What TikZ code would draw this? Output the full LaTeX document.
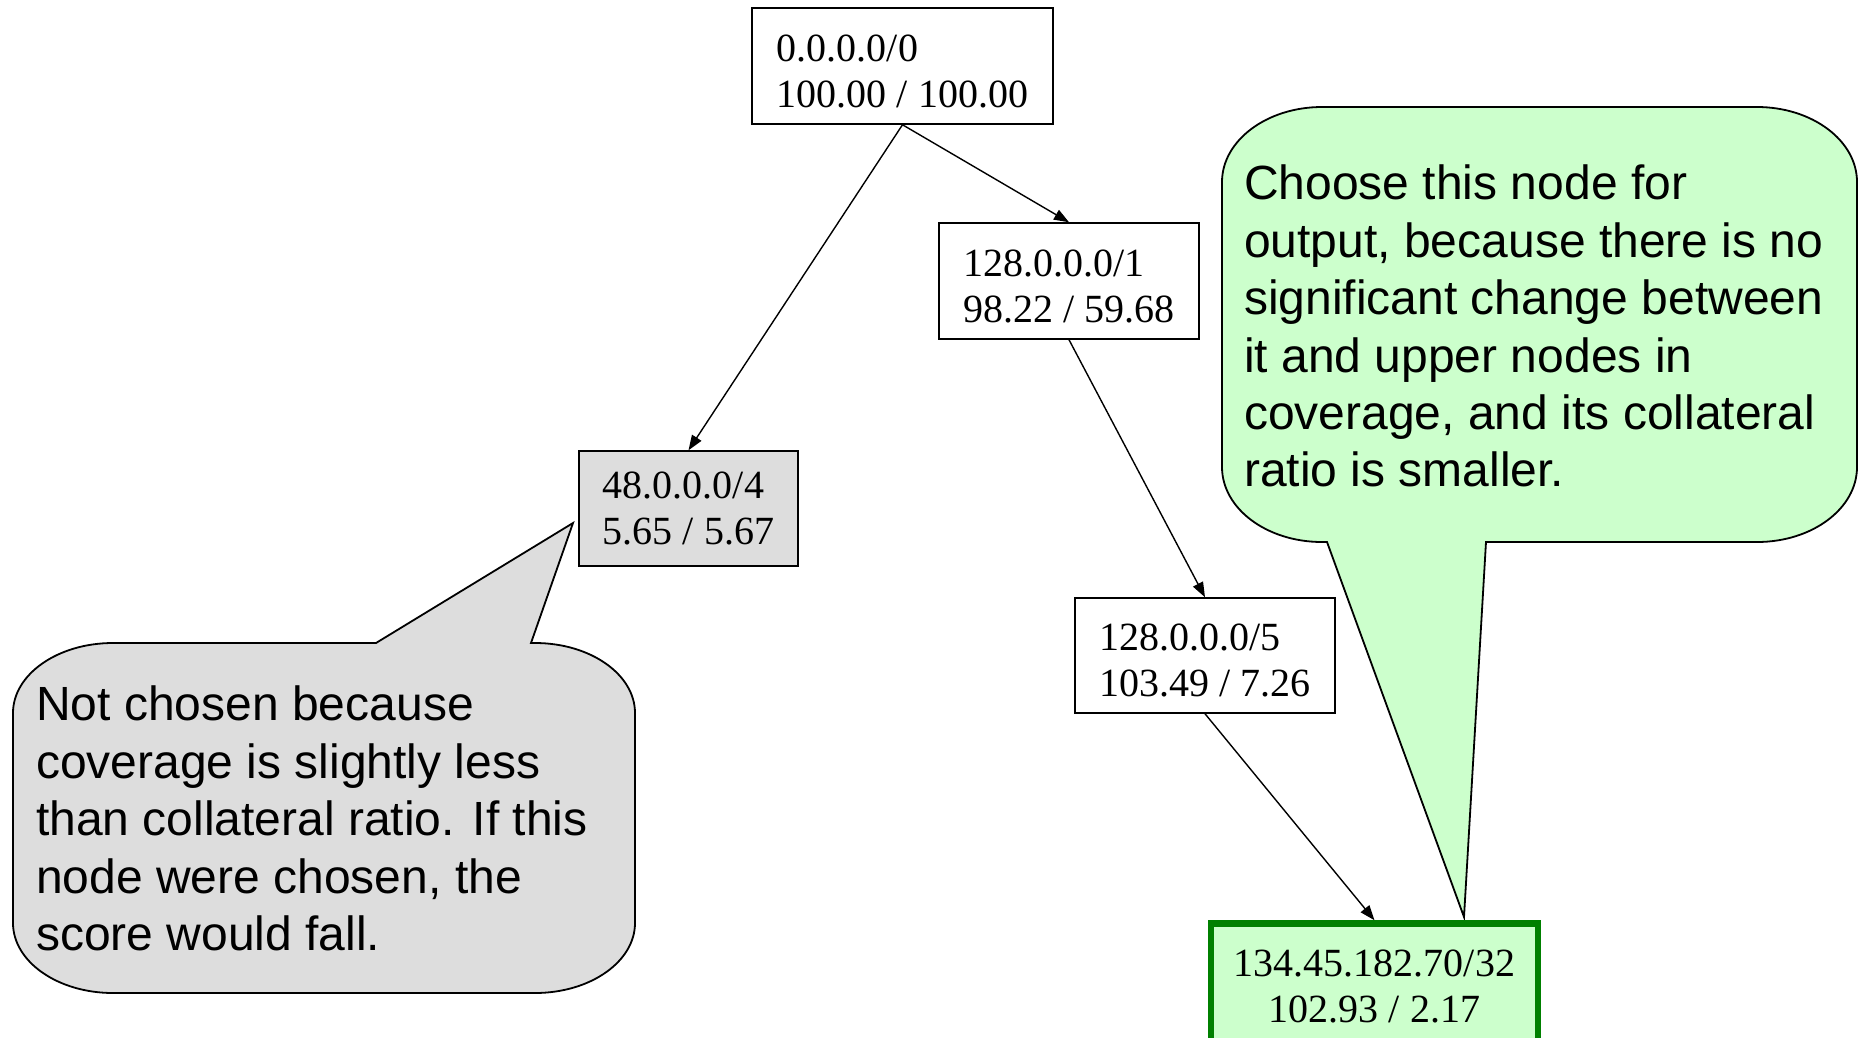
\documentclass[tikz,border=0pt]{standalone}
\usepackage{fontspec}
\setmainfont{Liberation Serif}
\newfontfamily\notefont{Liberation Sans}
\usetikzlibrary{arrows.meta}

\definecolor{boxgray}{HTML}{DDDDDD}
\definecolor{palegreen}{HTML}{CCFFCC}
\definecolor{deepgreen}{HTML}{008000}

% taller first line, so that the two lines sit a little lower in their box
\newcommand\firstlinestrut{\rule{0pt}{37pt}}

\tikzset{
  ipbox/.style={draw, line width=1.5pt, align=left, inner sep=0pt,
    font=\fontsize{40}{46}\selectfont},
  chosenbox/.style={ipbox, align=center, draw=deepgreen, line width=6.5pt, fill=palegreen},
  edge/.style={line width=1.4pt, -{Triangle[length=15pt,width=11pt]}},
  bubble/.style={draw, line width=1.8pt},
  bubbletext/.style={align=left, inner sep=0pt, anchor=north west,
    font=\notefont\fontsize{48}{57.4}\selectfont},
}

\begin{document}
\begin{tikzpicture}[x=1pt,y=-1pt]
\useasboundingbox (0,0) rectangle (1864,1037);

% speech bubbles
\draw[bubble, fill=boxgray]
  (376,643) -- (573,523) -- (531,643) -- (535,643)
  .. controls (590.2,643) and (635,674.3) .. (635,713) -- (635,923)
  .. controls (635,961.7) and (590.2,993) .. (535,993) -- (113,993)
  .. controls (57.8,993) and (13,961.7) .. (13,923) -- (13,713)
  .. controls (13,674.3) and (57.8,643) .. (113,643) -- cycle;
\node[bubbletext] (notenot) at (36,686)
  {Not chosen because\\coverage is slightly less\\than collateral ratio. If this\\node were chosen, the\\score would fall.};

\draw[bubble, fill=palegreen]
  (1327,542) -- (1464,917) -- (1486,542) -- (1757,542)
  .. controls (1812.2,542) and (1857,508.6) .. (1857,467) -- (1857,182)
  .. controls (1857,140.6) and (1812.2,107) .. (1757,107) -- (1322,107)
  .. controls (1266.8,107) and (1222,140.6) .. (1222,182) -- (1222,467)
  .. controls (1222,508.6) and (1266.8,542) .. (1322,542) -- cycle;
\node[bubbletext] (notechoose) at (1244,165)
  {Choose this node for\\output, because there is no\\significant change between\\it and upper nodes in\\coverage, and its collateral\\ratio is smaller.};

% prefix tree
\node[ipbox, minimum width=301pt, minimum height=116pt] (root) at (902.5,66)
  {\firstlinestrut 0.0.0.0/0\\100.00 / 100.00};
\node[ipbox, minimum width=260pt, minimum height=116pt] (p1) at (1069,281)
  {\firstlinestrut 128.0.0.0/1\\98.22 / 59.68};
\node[ipbox, fill=boxgray, minimum width=219pt, minimum height=115pt] (p4) at (688.5,508.5)
  {48.0.0.0/4\\5.65 / 5.67};
\node[ipbox, minimum width=260pt, minimum height=115pt] (p5) at (1205,655.5)
  {\firstlinestrut 128.0.0.0/5\\103.49 / 7.26};
\node[chosenbox, minimum width=327pt, minimum height=126pt] (p32) at (1374.5,986.5)
  {134.45.182.70/32\\102.93 / 2.17};

\draw[edge] (root.south) -- (p1.north);
\draw[edge] (root.south) -- (p4.north);
\draw[edge] (p1.south) -- (p5.north);
\draw[edge] (p5.south) -- (p32.north);
\end{tikzpicture}
\end{document}
